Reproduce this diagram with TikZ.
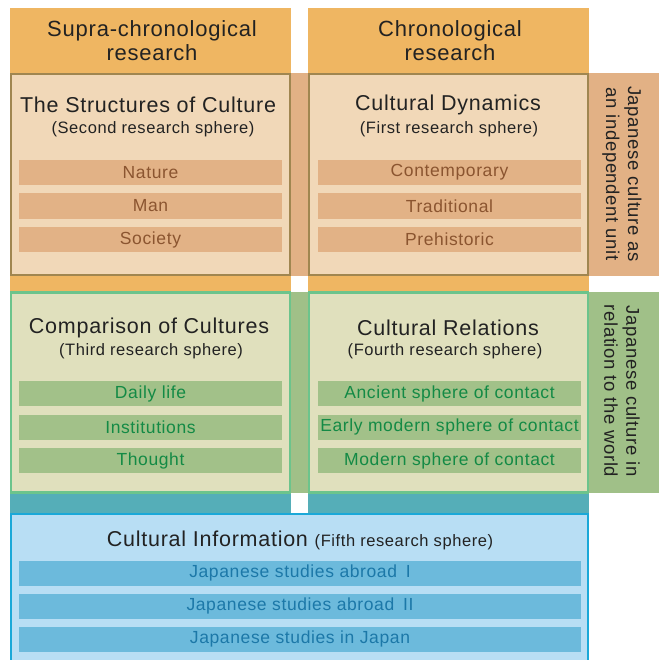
\documentclass[tikz,border=0pt]{standalone}
\usepackage{fontspec}
\setmainfont[LetterSpace=3.5]{Liberation Sans}
\definecolor{colorange}{HTML}{EFB662}
\definecolor{tanband}{HTML}{E2B185}
\definecolor{tanfill}{HTML}{F1D8B8}
\definecolor{tanborder}{HTML}{A08650}
\definecolor{tanitem}{HTML}{E2B286}
\definecolor{tantext}{HTML}{8B5530}
\definecolor{greenband}{HTML}{A0C088}
\definecolor{greenfill}{HTML}{E0E0BD}
\definecolor{greenborder}{HTML}{6CC48C}
\definecolor{greenitem}{HTML}{A2C189}
\definecolor{greentext}{HTML}{138A45}
\definecolor{tealband}{HTML}{55AEB8}
\definecolor{bluefill}{HTML}{B8DEF4}
\definecolor{blueborder}{HTML}{1AA8D8}
\definecolor{blueitem}{HTML}{6CBADC}
\definecolor{bluetext}{HTML}{1C78A8}
\definecolor{inkc}{HTML}{222222}
\tikzset{
  item/.style={inner sep=0pt, minimum width=263pt, minimum height=25pt, font=\fontsize{17.5}{18}\selectfont},
  tanit/.style={item, fill=tanitem, text=tantext},
  greenit/.style={item, fill=greenitem, text=greentext},
  blueit/.style={item, fill=blueitem, text=bluetext, minimum width=562pt},
  ttl/.style={inner sep=0pt, text=inkc, font=\fontsize{21.5}{22}\selectfont},
  sub/.style={inner sep=0pt, text=inkc, font=\fontsize{16.5}{18}\selectfont},
  hdr/.style={inner sep=0pt, text=inkc, align=center, font=\fontsize{22}{24}\selectfont},
  side/.style={inner sep=0pt, text=inkc, align=center, rotate=-90, font=\fontsize{18.5}{22}\selectfont},
}
\begin{document}
\begin{tikzpicture}[x=1pt,y=-1pt]
\useasboundingbox (0,0) rectangle (660,660);
% columns
\fill[colorange] (10,8) rectangle (291,292);
\fill[colorange] (308,8) rectangle (589,292);
\fill[tealband] (10,493) rectangle (291,516);
\fill[tealband] (308,493) rectangle (589,516);
% row bands
\fill[tanband] (291,73) rectangle (308,276);
\fill[tanband] (589,73) rectangle (659,276);
\fill[greenband] (291,292) rectangle (308,493);
\fill[greenband] (589,292) rectangle (659,493);
% headers
\node[hdr] (h1) at (152,41) {Supra-chronological\\research};
\node[hdr] (h2) at (450,41) {Chronological\\research};
% row 1 boxes
\node[draw=tanborder, fill=tanfill, line width=2.2pt, inner sep=0pt, minimum width=279pt, minimum height=201pt] (b1) at (150.5,174.5) {};
\node[draw=tanborder, fill=tanfill, line width=2.2pt, inner sep=0pt, minimum width=279pt, minimum height=201pt] (b2) at (448.5,174.5) {};
\node[ttl] (t1) at (148,104.5) {The Structures of Culture};
\node[sub] (s1) at (153,129) {(Second research sphere)};
\node[ttl] (t2) at (448,104.5) {Cultural Dynamics};
\node[sub] (s2) at (449,129) {(First research sphere)};
\node[tanit] (n1) at (150.5,172.5) {Nature};
\node[tanit] (n2) at (150.5,206) {Man};
\node[tanit] (n3) at (150.5,239.5) {Society};
\node[tanit] (c1) at (449.5,172.5) {Contemporary};
\node[tanit] (c2) at (449.5,206) {Traditional};
\node[tanit] (c3) at (449.5,239.5) {Prehistoric};
\node[side] (r1) at (622,174) {Japanese culture as\\an independent unit};
% row 2 boxes
\node[draw=greenborder, fill=greenfill, line width=2.2pt, inner sep=0pt, minimum width=279pt, minimum height=200pt] (b3) at (150.5,392.5) {};
\node[draw=greenborder, fill=greenfill, line width=2.2pt, inner sep=0pt, minimum width=279pt, minimum height=200pt] (b4) at (448.5,392.5) {};
\node[ttl] (t3) at (149,327.5) {Comparison of Cultures};
\node[sub] (s3) at (151,351) {(Third research sphere)};
\node[ttl] (t4) at (448,327.5) {Cultural Relations};
\node[sub] (s4) at (445,351) {(Fourth research sphere)};
\node[greenit] (g1) at (150.5,393.5) {Daily life};
\node[greenit] (g2) at (150.5,427) {Institutions};
\node[greenit] (g3) at (150.5,460.5) {Thought};
\node[greenit] (g4) at (449.5,393.5) {Ancient sphere of contact};
\node[greenit] (g5) at (449.5,427) {Early modern sphere of contact};
\node[greenit] (g6) at (449.5,460.5) {Modern sphere of contact};
\node[side] (r2) at (622,391) {Japanese culture in\\relation to the world};
% row 3
\node[draw=blueborder, fill=bluefill, line width=2.2pt, inner sep=0pt, minimum width=577pt, minimum height=152pt] (b5) at (299.5,590) {};
\node[inner sep=0pt, text=inkc] (t5) at (300,540) {\fontsize{21.5}{22}\selectfont Cultural Information \fontsize{16.5}{18}\selectfont(Fifth research sphere)};
\node[blueit] (j1) at (300,573) {Japanese studies abroad\enspace I};
\node[blueit] (j2) at (300,606) {Japanese studies abroad\enspace II};
\node[blueit] (j3) at (300,639) {Japanese studies in Japan};
\end{tikzpicture}
\end{document}
